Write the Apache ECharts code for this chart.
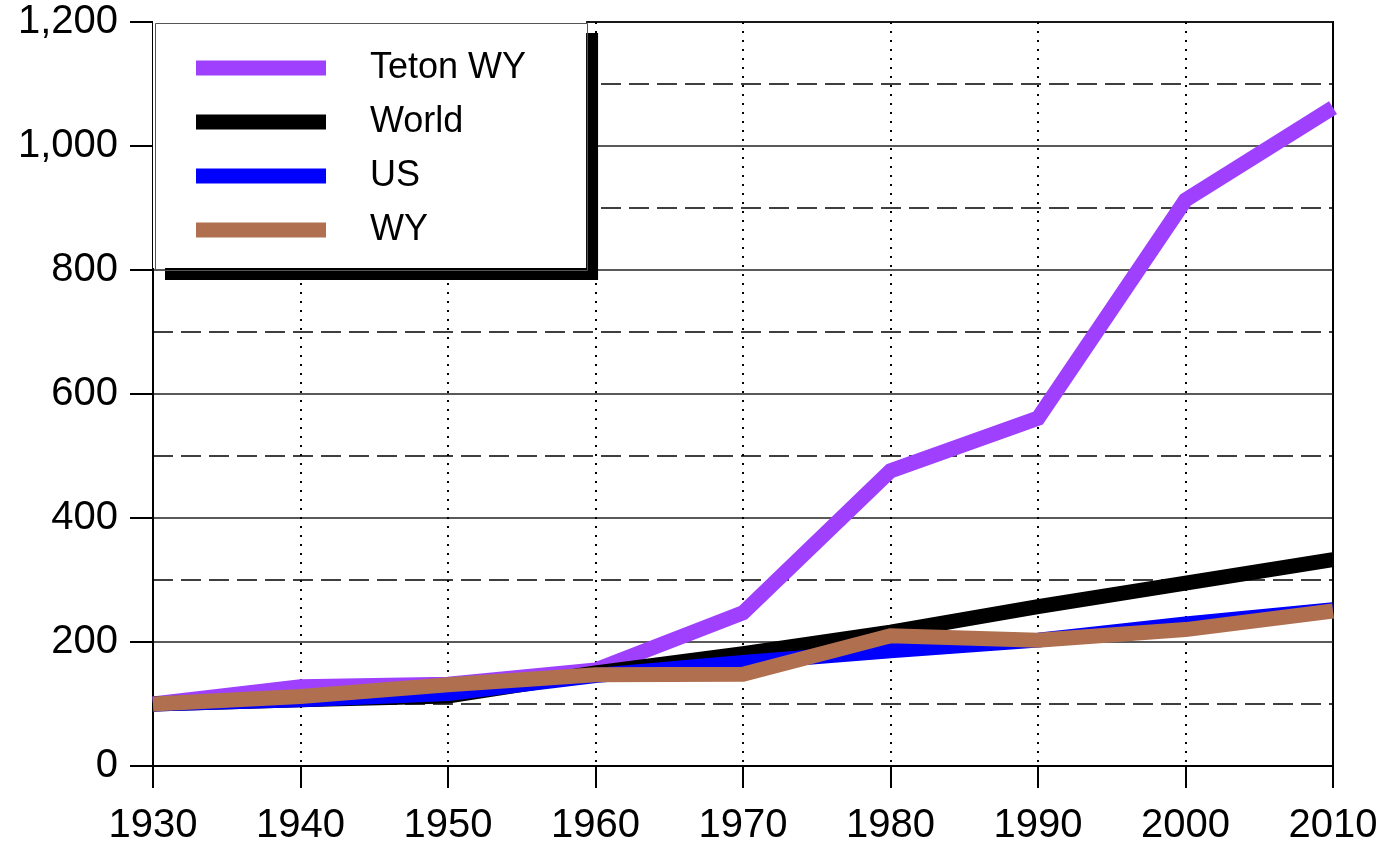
<!DOCTYPE html>
<html>
<head>
<meta charset="utf-8">
<title>Growth index 1930-2010</title>
<script src="https://cdn.jsdelivr.net/npm/echarts@6/dist/echarts.min.js"></script>
<style>
  html, body { margin: 0; padding: 0; background: #fff; }
  #chart { width: 1381px; height: 846px; }
</style>
</head>
<body>
<div id="chart"></div>
<script>
// decades on the x axis
const years = [1930, 1940, 1950, 1960, 1970, 1980, 1990, 2000, 2010]

// index values (1930 = 100)
const tetonWY = [100, 128, 132, 155, 247, 476, 561, 913, 1062]
const world = [100, 107, 113, 150, 181, 216, 257, 295, 333]
const us = [100, 107, 117, 146, 167, 186, 203, 229, 252]
const wy = [100, 112, 131, 147, 148, 210, 203, 220, 250]

const font = '"Liberation Sans", Arial, sans-serif'

// 把年份和数值组合成点
const pairs = (vals) => vals.map((v, i) => [years[i], v])

const chart = echarts.init(document.getElementById('chart'), null, { renderer: 'canvas' })

const lineSeries = (name, vals, color) => ({
  name,
  type: 'line',
  data: pairs(vals),
  showSymbol: false,
  symbol: 'none',
  lineStyle: { width: 15, color, join: 'miter' },
  itemStyle: { color },
  emphasis: { disabled: true },
  animation: false
})

chart.setOption({
  backgroundColor: '#fff',
  grid: {
    left: 153, right: 48, top: 22, bottom: 76,
    show: true, borderColor: '#000', borderWidth: 2, backgroundColor: 'transparent'
  },
  // legend frame: the box itself casts the shadow, the thin border is drawn on top
  graphic: [{
    type: 'rect',
    left: 153,
    top: 21,
    z: 20,
    silent: true,
    shape: { width: 432, height: 247 },
    style: { fill: null, stroke: '#555', lineWidth: 1 }
  }],
  legend: {
    orient: 'vertical',
    left: 153,
    top: 21,
    z: 10,
    icon: 'rect',
    itemWidth: 130,
    itemHeight: 15,
    itemGap: 18,
    padding: [29, 60, 20, 43],
    backgroundColor: '#fff',
    borderWidth: 0,
    shadowColor: '#000',
    shadowBlur: 0,
    shadowOffsetX: 12,
    shadowOffsetY: 12,
    selectedMode: false,
    textStyle: { fontFamily: font, fontSize: 36, color: '#000', padding: [0, 0, 0, 39] },
    data: ['Teton WY', 'World', 'US', 'WY']
  },
  xAxis: {
    type: 'value',
    min: 1930,
    max: 2010,
    interval: 10,
    axisLine: { show: true, onZero: false, lineStyle: { color: '#000', width: 2 } },
    axisTick: { show: true, length: 22, lineStyle: { color: '#000', width: 2 } },
    axisLabel: { fontFamily: font, fontSize: 40, color: '#000', margin: 40, formatter: (v) => String(v) },
    splitLine: { show: true, lineStyle: { color: '#000', width: 2, type: [2, 7] } }
  },
  yAxis: {
    type: 'value',
    min: 0,
    max: 1200,
    interval: 200,
    axisLine: { show: true, lineStyle: { color: '#000', width: 2 } },
    axisTick: { show: true, length: 23, lineStyle: { color: '#000', width: 2 } },
    axisLabel: {
      fontFamily: font, fontSize: 40, color: '#000', margin: 35,
      formatter: (v) => v.toLocaleString('en-US')
    },
    splitLine: { show: true, lineStyle: { color: '#222', width: 1.5 } },
    minorTick: { show: false, splitNumber: 2 },
    minorSplitLine: { show: true, lineStyle: { color: '#000', width: 1.5, type: [20, 8] } }
  },
  series: [
    lineSeries('Teton WY', tetonWY, '#9f40ff'),
    lineSeries('World', world, '#000000'),
    lineSeries('US', us, '#0000ff'),
    lineSeries('WY', wy, '#b07050')
  ]
})
</script>
</body>
</html>
